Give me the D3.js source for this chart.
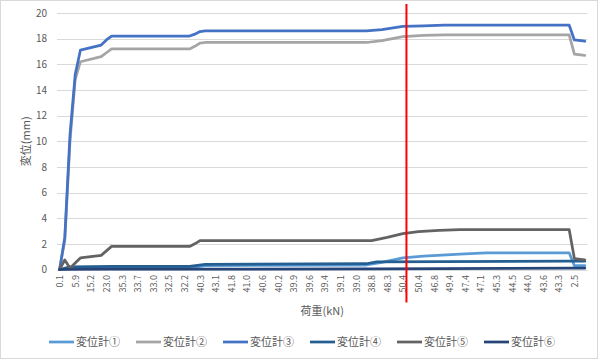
<!DOCTYPE html>
<html><head><meta charset="utf-8">
<script src="https://cdn.jsdelivr.net/npm/d3@7"></script>
<style>
html,body{margin:0;padding:0;background:#fff;}
svg text{font-family:"Noto Sans CJK JP","Noto Sans",sans-serif;fill:#595959;}
</style></head>
<body>
<svg id="chart" width="600" height="360"></svg>
<script>
// ---- data ----
const loadLabels = ["0.1","5.9","15.2","23.0","35.3","33.7","33.0","32.5","32.2","40.3","43.1","41.8","41.0","40.6","40.2","39.9","39.6","39.4","39.1","39.0","38.8","48.3","50.4","50.4","46.8","49.4","47.4","47.1","45.3","44.5","44.0","43.6","43.3","2.5"];
const labelStep = 3;          // one label every 3 readings
const readingCount = 102;     // number of readings along the axis
const yTicks = [0,2,4,6,8,10,12,14,16,18,20];
const seriesNames = ["変位計①","変位計②","変位計③","変位計④","変位計⑤","変位計⑥"];
const seriesColors = ["#5B9BD5","#A5A5A5","#4472C4","#255E91","#636363","#264478"];
// [reading index, displacement mm]
const gauge1 = [[0,0],[4,0.1],[10,0.15],[25,0.15],[28,0.3],[59,0.35],[62,0.55],[66,0.9],[70,1.05],[77,1.2],[82,1.3],[98,1.3],[99,0.3],[101,0.3]];
const gauge2 = [[0,0],[1,2.3],[2,10],[3,14.8],[4,16.2],[8,16.6],[9,16.9],[10,17.2],[25,17.2],[26,17.4],[27,17.65],[28,17.7],[59,17.7],[62,17.85],[66,18.15],[70,18.25],[74,18.3],[98,18.3],[99,16.8],[101,16.7]];
const gauge3 = [[0,0],[1,2.5],[2,10.5],[3,15.2],[4,17.1],[8,17.5],[9,17.9],[10,18.2],[25,18.2],[26,18.35],[27,18.55],[28,18.6],[59,18.6],[62,18.7],[66,18.95],[70,19.0],[74,19.05],[98,19.05],[99,17.9],[101,17.8]];
const gauge4 = [[0,0],[2,0.2],[10,0.25],[25,0.25],[28,0.4],[59,0.45],[61,0.6],[98,0.65],[101,0.65]];
const gauge5 = [[0,0],[1,0.75],[2,0.1],[3,0.5],[4,0.9],[8,1.1],[9,1.45],[10,1.8],[25,1.8],[26,2.0],[27,2.25],[60,2.25],[63,2.5],[66,2.8],[69,2.95],[73,3.05],[77,3.1],[98,3.1],[99,0.85],[101,0.75]];
const gauge6 = [[0,0],[10,0.02],[60,0.05],[98,0.1],[101,0.1]];
const markerIndex = 66.7;     // red vertical marker position (reading index)

const allSeries = [gauge1,gauge2,gauge3,gauge4,gauge5,gauge6];

// ---- layout ----
const svg = d3.select("#chart");
const plot = {left:57, right:587.4, top:13, bottom:269.5};

svg.append("rect").attr("x",0.5).attr("y",0.5).attr("width",597).attr("height",358)
  .attr("fill","#fff").attr("stroke","#D9D9D9").attr("stroke-width",1);

const x = d3.scaleLinear().domain([-0.5, readingCount-0.5]).range([plot.left, plot.right]);
const y = d3.scaleLinear().domain([0,20]).range([plot.bottom, plot.top]);

// gridlines
svg.append("g").selectAll("line").data(yTicks).join("line")
  .attr("x1",plot.left).attr("x2",plot.right)
  .attr("y1",d=>Math.round(y(d))+0.5).attr("y2",d=>Math.round(y(d))+0.5)
  .attr("stroke","#D9D9D9").attr("stroke-width",1);

// y axis labels
const yAxis = d3.axisLeft(y).tickValues(yTicks).tickSize(0).tickPadding(10);
const gy = svg.append("g").attr("transform",`translate(${plot.left},0)`).call(yAxis);
gy.select(".domain").remove();
gy.selectAll("text").attr("font-size","10px").style("font-family",'"Noto Sans CJK JP",sans-serif').attr("fill","#595959");

// x axis labels
const tickIdx = loadLabels.map((_,i)=>i*labelStep);
const xAxis = d3.axisBottom(x).tickValues(tickIdx).tickSize(0).tickFormat((d,i)=>loadLabels[i]);
const gx = svg.append("g").attr("transform",`translate(0,${plot.bottom})`).call(xAxis);
gx.select(".domain").remove();
gx.selectAll("text")
  .attr("font-size","9px").style("font-family",'"Noto Sans CJK JP",sans-serif').attr("fill","#595959")
  .attr("text-anchor","end").attr("transform","rotate(-90)")
  .attr("x",-5.5).attr("y",0).attr("dy","0.35em");

// axis titles
svg.append("text").attr("transform",`translate(30,${(plot.top+plot.bottom)/2}) rotate(-90)`)
  .attr("text-anchor","middle").attr("font-size","11px").text("変位(mm)");
svg.append("text").attr("x",(plot.left+plot.right)/2).attr("y",315)
  .attr("text-anchor","middle").attr("font-size","11px").text("荷重(kN)");

// lines
const line = d3.line().x(d=>x(d[0])).y(d=>y(d[1]));
svg.append("g").selectAll("path").data(allSeries).join("path")
  .attr("d",line).attr("fill","none")
  .attr("stroke",(d,i)=>seriesColors[i]).attr("stroke-width",2.75)
  .attr("stroke-linejoin","round").attr("stroke-linecap","round");

// red marker
svg.append("line").attr("x1",x(markerIndex)).attr("x2",x(markerIndex))
  .attr("y1",plot.top-9).attr("y2",plot.bottom+33)
  .attr("stroke","#FF0000").attr("stroke-width",2);

// legend
const leg = svg.append("g").selectAll("g").data(seriesNames).join("g")
  .attr("transform",(d,i)=>`translate(${49+i*87},342)`);
leg.append("line").attr("x1",0).attr("x2",25).attr("y1",0).attr("y2",0)
  .attr("stroke",(d,i)=>seriesColors[i]).attr("stroke-width",2.75);
leg.append("text").attr("x",27).attr("y",0).attr("dy","0.35em").attr("font-size","11px").text(d=>d);
</script>
</body></html>
